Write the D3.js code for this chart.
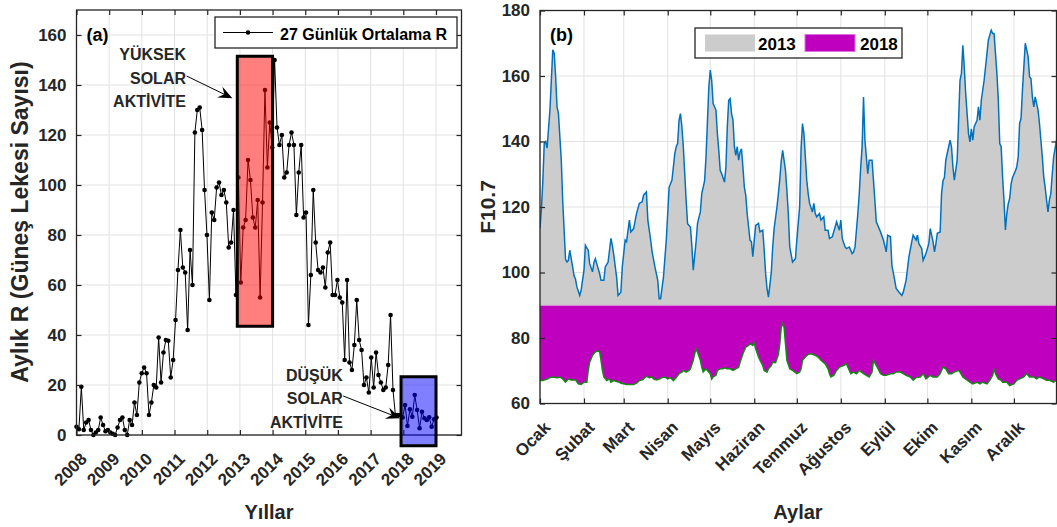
<!DOCTYPE html>
<html lang="tr">
<head>
<meta charset="utf-8">
<title>Güneş lekesi sayısı ve F10.7</title>
<script src="https://cdn.jsdelivr.net/npm/d3@7"></script>
<style>
  html, body { margin: 0; padding: 0; background: #fff; }
  svg text { font-family: "Liberation Sans", Arial, Helvetica, sans-serif; font-weight: bold; fill: #262626; }
</style>
</head>
<body>
<svg id="fig" width="1057" height="527"></svg>
<script>
// ---------------- Panel (a): 27-day (one Bartels rotation) mean sunspot number R ----------------
const rotationStartYear = 2008;
const rotationLengthDays = 27;
const sunspotR = [
  3.3, 2.3, 19.3, 2, 5, 6, 2, 0, 1, 2, 7, 4, 1.5, 2,
  1, 0.5, 0, 3, 6, 7, 2, 0, 6, 4, 13, 8, 21,
  24.7, 27, 24.7, 8, 13, 20, 19, 39, 21, 33, 38, 37.7, 23, 30,
  46, 66, 82, 67, 65, 42, 74, 60, 121, 130, 131, 122, 98, 80,
  54, 89, 86, 99, 101, 96, 98, 93, 75, 77, 90, 56, 103, 61,
  83, 86, 110, 102, 87, 83, 94, 55, 93, 138, 107, 125, 115, 150,
  123, 116, 120, 103, 105, 116, 121, 116, 88, 105, 116, 87, 89, 44,
  64, 98, 77, 66, 65, 67, 59, 73, 77, 56, 56, 62, 55, 53,
  30, 62, 29, 26, 36, 54, 38, 34, 20, 23, 17, 31, 19, 33,
  24, 21, 18, 19, 28, 48, 18, 8, 8, 8, 7, 12, 3.6, 10.3,
  7.3, 16, 10, 2.7, 9.3, 6.7, 6, 7.1, 3.3, 6.3, 7
];
const yearTicks = [2008, 2009, 2010, 2011, 2012, 2013, 2014, 2015, 2016, 2017, 2018, 2019];
const rTicks = [0, 20, 40, 60, 80, 100, 120, 140, 160];
// highlighted periods: [fromYear, toYear, lowR, highR]
const highActivityBox = [2012.92, 2014.0, 43.5, 151.5];
const lowActivityBox = [2017.93, 2019.0, -4.3, 23.3];
const highActivityText = ["YÜKSEK", "SOLAR", "AKTİVİTE"];
const lowActivityText = ["DÜŞÜK", "SOLAR", "AKTİVİTE"];

// ---------------- Panel (b): daily F10.7 solar flux, [day of year, value] ----------------
const months = ["Ocak", "Şubat", "Mart", "Nisan", "Mayıs", "Haziran", "Temmuz", "Ağustos", "Eylül", "Ekim", "Kasım", "Aralık"];
const monthStartDay = [0, 31, 59, 90, 120, 151, 181, 212, 243, 273, 304, 334];
const f107Ticks = [60, 80, 100, 120, 140, 160, 180];
const areaBase = 90;
const f107_2013 = [
  [0,113.5],[1,119.5],[2,128],[3,139.4],[4,140],[5,138],[7,149.6],[9,168],[10,167],[11,160],[12,150.6],[13,148.5],
  [15,134.3],[16,122],[17,113],[18,104],[19,103.2],[20,103.7],[21,106.8],[23,101.7],[24,99],[25,98],[26,95.6],
  [28,93],[29,94.6],[31,100.7],[32,108.3],[33,107.5],[34,106.8],[35,102.7],[37,100.2],[38,103],[39,104.2],
  [40,102.7],[42,99.7],[43,97.6],[45,97.6],[46,101.7],[48,103.2],[50,110.4],[51,108.3],[52,105.3],[54,98.6],
  [55,93],[57,94],[58,101.7],[60,109.9],[61,109.4],[63,116],[64,112.4],[66,113.4],[68,118],[70,121.1],[72,121.6],
  [73,123.6],[75,124.6],[76,116],[78,109.9],[79,106.3],[81,101.7],[83,97.6],[84,92],[85,92],[87,98.6],[89,109.9],
  [90,118],[91,126],[93,128.2],[95,136.3],[96,138.4],[97,139.4],[98,146.5],[99,148.5],[100,144.5],[101,138.4],
  [102,130.2],[103,122],[104,114.9],[106,113.9],[107,108.3],[108,100.7],[110,109.4],[111,115],[113,118.5],
  [114,124.1],[116,128],[117,135.3],[119,156.7],[120,161.8],[121,158.7],[122,151.6],[124,149.6],[125,142.4],
  [126,137.3],[127,131.2],[128,130.2],[130,127.6],[131,132],[132,144.5],[133,152.6],[134,153.1],[135,148.5],
  [136,146.5],[137,138.4],[138,135.8],[139,138.4],[140,134.3],[141,136.8],[142,137.8],[143,132.2],[144,126.1],
  [145,123.6],[146,118],[147,113.9],[148,109.9],[149,109.4],[150,104.8],[151,109.9],[152,114.4],[154,115],
  [155,112.4],[157,112.9],[158,106.8],[159,99.7],[160,95.1],[161,92.5],[163,100],[164,107.8],[165,113.4],
  [167,120],[168,124.1],[169,128.5],[170,134],[171,137.3],[172,134.3],[173,131.2],[174,125],[175,118],
  [176,107.8],[178,103.2],[180,104.2],[181,109.9],[183,120.1],[184,138],[185,145.5],[186,142.4],[188,128.2],
  [189,124.1],[190,121.1],[192,118.5],[193,121.1],[194,118],[195,117],[197,118],[198,116],[200,117],[201,112.9],
  [203,112.9],[204,110.4],[206,110.9],[208,113.9],[209,115.5],[211,112.9],[212,116],[213,110.4],[215,107.8],
  [216,107.3],[218,107.8],[220,105.8],[221,106.3],[222,107.8],[224,118],[225,124.1],[226,132],[227,138.4],
  [228,153.6],[229,140.4],[231,130.2],[232,134.3],[234,134.3],[235,128.2],[236,122],[237,115.5],[240,112.4],
  [242,109.9],[244,106.3],[245,111.4],[247,110.9],[248,102.2],[250,97.6],[251,95.1],[253,94],[255,93],[256,94],
  [258,97.6],[260,104.8],[262,109.4],[263,111.4],[265,109.9],[266,111.4],[267,108.8],[269,107.3],[270,103.7],
  [272,105.8],[274,108.8],[275,113.4],[277,109.4],[278,106.3],[279,108.8],[280,112],[282,112.4],[283,124.1],
  [284,128],[285,129],[286,134.3],[288,138.4],[289,140.4],[290,138.4],[291,132.2],[292,128.2],[294,134.3],
  [295,146.5],[296,158.7],[297,160.8],[298,169.4],[299,162.8],[300,154.7],[302,142.4],[303,139.9],[304,143.9],
  [305,140.4],[306,144.5],[308,146.5],[309,150.6],[310,146.5],[311,152.6],[313,158.7],[314,162.8],[316,171],
  [318,174],[319,173],[320,173],[321,166.9],[322,160.8],[323,152.6],[324,139.4],[325,138.4],[326,129.2],
  [327,122],[328,113],[329,118],[330,121],[331,122.6],[332,127],[333,129],[334,130],[335,131],[336,132.2],
  [337,135.3],[338,145.5],[339,147],[340,155.7],[341,162.8],[342,170],[344,165.9],[345,159.8],[346,159.2],
  [347,153.6],[348,150.6],[349,153.6],[351,149.6],[352,145.5],[353,140.4],[354,135.3],[355,129.2],[356,126.1],
  [357,122],[358,118.5],[359,122.1],[360,124.1],[361,130],[362,135.3],[364,140.4]
];
const f107_2018 = [
  [0,67],[2,67],[5,67.5],[7,67.9],[9,68.1],[12,67.9],[14,68.1],[16,67.5],[18,66.5],[20,67.5],[22,67.2],[25,67.2],
  [27,66],[29,65.8],[31,66.5],[33,66.5],[34,70.1],[35,72.6],[37,74.7],[39,75.7],[40,76],[42,75.9],[43,73.2],
  [44,70.1],[45,68.1],[47,67],[49,67.5],[50,66.5],[52,67],[54,66.7],[56,66.5],[57,66.2],[59,66],[61,65.8],
  [63,65.8],[66,65.8],[68,66.2],[70,67],[72,67.2],[73,67.5],[75,68.3],[77,67.9],[79,68.1],[80,67.5],[82,67.2],
  [84,67.5],[86,67.9],[88,68.1],[90,67.5],[92,67.9],[94,67],[96,67.9],[98,69.1],[100,69.6],[101,70.1],[103,69.6],
  [105,70.1],[106,70.6],[108,73.2],[109,75.2],[110,76.7],[111,75.7],[113,73.2],[114,71.1],[115,69.6],[117,70.6],
  [118,70.1],[120,69.1],[121,67.5],[122,68.1],[124,68.6],[125,70.1],[127,70.6],[129,70.6],[130,70.9],[132,70.6],
  [134,70.6],[136,70.1],[138,70.6],[140,71.1],[141,72.6],[143,75.2],[145,77.2],[147,77.7],[148,78.3],[150,77.7],
  [151,78.5],[152,76.7],[154,74.2],[155,73.2],[157,71.6],[158,70.1],[160,69.6],[161,70.6],[163,71.6],[164,72.6],
  [166,72.5],[168,75],[169,78.3],[170,83.3],[171,84.4],[172,83.3],[173,78.3],[174,73.2],[176,70.6],[178,70.1],
  [181,69.1],[183,69.6],[184,70.6],[185,73.2],[187,74.2],[189,75],[191,75.2],[194,74.7],[196,74.2],[198,73.2],
  [201,72.1],[203,70.6],[204,69.1],[205,68.1],[207,68.6],[209,70.1],[211,71.1],[214,71.6],[216,72.1],[217,71.1],
  [219,69.1],[221,69.6],[223,69.1],[225,70.1],[228,69.1],[230,68.6],[232,68.1],[234,69.6],[235,73.2],[237,71.6],
  [240,69.1],[242,68.6],[244,68.6],[247,69.1],[249,69.1],[251,69.6],[254,69.6],[256,69.1],[258,68.6],[261,68.1],
  [263,67.1],[265,67.9],[268,68.1],[270,69.1],[272,67.5],[275,68.6],[277,68.1],[280,68.1],[282,69.1],[284,71.1],
  [286,70.6],[288,69.1],[290,69.1],[292,69.6],[295,70.1],[296,69.6],[298,68.1],[301,67.1],[303,66.5],[305,66],
  [308,66.5],[310,66],[312,66.5],[315,66],[317,67.1],[319,68.6],[320,70.6],[321,69.1],[323,67.5],[325,67.1],
  [326,66.5],[329,66.5],[331,65.5],[334,66],[336,67.1],[338,67.5],[341,68.1],[343,69.1],[345,68.1],[348,68.1],
  [350,67.5],[352,68.1],[355,67.5],[357,67.1],[359,67.1],[362,66.5],[364,67.1]
];

// ---------------- shared drawing helpers ----------------
const svg = d3.select("#fig");
const AXIS = "#262626";
const GRID = "#e2e2e2";

function drawGrid(g, x, y, xTicks, yTicks) {
  const [xa, xb] = x.range(), [ya, yb] = y.range();
  g.append("g").selectAll("line").data(xTicks).join("line")
    .attr("x1", d => x(d)).attr("x2", d => x(d)).attr("y1", ya).attr("y2", yb)
    .attr("stroke", GRID).attr("stroke-width", 1);
  g.append("g").selectAll("line").data(yTicks).join("line")
    .attr("y1", d => y(d)).attr("y2", d => y(d)).attr("x1", xa).attr("x2", xb)
    .attr("stroke", GRID).attr("stroke-width", 1);
}

function drawAxes(g, x, y, xTicks, yTicks, xLabel) {
  const [xa, xb] = x.range(), [ya, yb] = y.range();
  const bottom = g.append("g").attr("transform", `translate(0,${ya})`)
    .call(d3.axisBottom(x).tickValues(xTicks).tickSize(-5).tickSizeOuter(0).tickFormat(xLabel));
  const top = g.append("g").attr("transform", `translate(0,${yb})`)
    .call(d3.axisTop(x).tickValues(xTicks).tickSize(-5).tickSizeOuter(0).tickFormat(""));
  const left = g.append("g").attr("transform", `translate(${xa},0)`)
    .call(d3.axisLeft(y).tickValues(yTicks).tickSize(-5).tickSizeOuter(0).tickPadding(10));
  const right = g.append("g").attr("transform", `translate(${xb},0)`)
    .call(d3.axisRight(y).tickValues(yTicks).tickSize(-5).tickSizeOuter(0).tickFormat(""));
  [bottom, top, left, right].forEach(a => {
    a.attr("color", AXIS).attr("font-size", 17);
    a.select(".domain").remove();
    a.selectAll(".tick line").attr("stroke-width", 1.2);
  });
  bottom.selectAll(".tick text")
    .attr("x", 0).attr("y", 0).attr("dy", null)
    .attr("text-anchor", "end")
    .attr("transform", "translate(11,25) rotate(-45)");
  g.append("rect")
    .attr("x", xa).attr("y", yb).attr("width", xb - xa).attr("height", ya - yb)
    .attr("fill", "none").attr("stroke", AXIS).attr("stroke-width", 1.3);
}

function arrow(g, x0, y0, x1, y1) {
  const ang = Math.atan2(y1 - y0, x1 - x0);
  const len = 14, half = 6, notch = 9;
  const ux = Math.cos(ang), uy = Math.sin(ang);
  const px = -uy, py = ux;
  const bx = x1 - ux * len, by = y1 - uy * len;
  const nx = x1 - ux * notch, ny = y1 - uy * notch;
  g.append("line").attr("x1", x0).attr("y1", y0).attr("x2", nx).attr("y2", ny)
    .attr("stroke", "#000").attr("stroke-width", 1);
  g.append("path")
    .attr("d", `M${x1},${y1}L${bx + px * half},${by + py * half}L${nx},${ny}L${bx - px * half},${by - py * half}Z`)
    .attr("fill", "#000");
}

// ---------------- Panel (a) ----------------
const ax = d3.scaleLinear().domain([2008, 2019.78]).range([76.5, 461.5]);
const ay = d3.scaleLinear().domain([0, 170]).range([435, 10]);
const gA = svg.append("g");
drawGrid(gA, ax, ay, yearTicks, rTicks);

const rotYears = sunspotR.map((_, i) => rotationStartYear + i * rotationLengthDays / 365.25);
gA.append("path")
  .datum(sunspotR)
  .attr("d", d3.line().x((d, i) => ax(rotYears[i])).y(d => ay(d)))
  .attr("fill", "none").attr("stroke", "#000").attr("stroke-width", 1);
gA.append("g").selectAll("circle").data(sunspotR).join("circle")
  .attr("cx", (d, i) => ax(rotYears[i])).attr("cy", d => ay(d)).attr("r", 2.3).attr("fill", "#000");

drawAxes(gA, ax, ay, yearTicks, rTicks, d => String(d));

function activityBox(b, fill) {
  gA.append("rect")
    .attr("x", ax(b[0])).attr("y", ay(b[3]))
    .attr("width", ax(b[1]) - ax(b[0])).attr("height", ay(b[2]) - ay(b[3]))
    .attr("fill", fill).attr("stroke", "#000").attr("stroke-width", 3);
}
activityBox(highActivityBox, "rgba(255,0,0,0.5)");
activityBox(lowActivityBox, "rgba(0,0,255,0.5)");

function stackedLabel(lines, xYear, baseR, stepR) {
  gA.append("g").selectAll("text").data(lines).join("text")
    .attr("x", ax(xYear)).attr("y", (d, i) => ay(baseR - i * stepR))
    .attr("text-anchor", "end").attr("font-size", 16).style("fill", "#262626")
    .text(d => d);
}
stackedLabel(highActivityText, 2011.35, 150, 9.4);
stackedLabel(lowActivityText, 2016.15, 21.8, 9.5);
arrow(gA, ax(2011.37), ay(143.6), ax(2012.77), ay(134.7));
arrow(gA, ax(2016.16), ay(15.6), ax(2017.9), ay(6.7));

gA.append("text").attr("x", 86.5).attr("y", 41).attr("font-size", 18).style("fill", "#000").text("(a)");

// legend (a)
const legA = gA.append("g");
legA.append("rect").attr("x", 215).attr("y", 17).attr("width", 242).attr("height", 31)
  .attr("fill", "#fff").attr("stroke", AXIS).attr("stroke-width", 1.3);
legA.append("line").attr("x1", 223).attr("x2", 273).attr("y1", 32.5).attr("y2", 32.5)
  .attr("stroke", "#000").attr("stroke-width", 1);
legA.append("circle").attr("cx", 248).attr("cy", 32.5).attr("r", 2.3).attr("fill", "#000");
legA.append("text").attr("x", 280).attr("y", 40).attr("font-size", 16).style("fill", "#000")
  .text("27 Günlük Ortalama R");

gA.append("text").attr("x", 269).attr("y", 519).attr("text-anchor", "middle").attr("font-size", 20).text("Yıllar");
gA.append("text").attr("transform", "translate(28,222) rotate(-90)").attr("text-anchor", "middle")
  .attr("font-size", 23).text("Aylık R (Güneş Lekesi Sayısı)");

// ---------------- Panel (b) ----------------
const bx = d3.scaleLinear().domain([0, 364]).range([540, 1056.5]);
const by = d3.scaleLinear().domain([60, 180]).range([403.5, 10.5]);
const gB = svg.append("g");
svg.append("defs").append("clipPath").attr("id", "clipB")
  .append("rect").attr("x", 540).attr("y", 10.5).attr("width", 516.5).attr("height", 393);
drawGrid(gB, bx, by, monthStartDay, f107Ticks);

const plotB = gB.append("g").attr("clip-path", "url(#clipB)");
const areaB = d3.area().x(d => bx(d[0])).y0(by(areaBase)).y1(d => by(d[1]));
const lineB = d3.line().x(d => bx(d[0])).y(d => by(d[1]));
plotB.append("path").datum(f107_2013).attr("d", areaB).attr("fill", "#cccccc");
plotB.append("path").datum(f107_2018).attr("d", areaB).attr("fill", "#bf00bf");
plotB.append("line").attr("x1", bx(0)).attr("x2", bx(364)).attr("y1", by(areaBase)).attr("y2", by(areaBase))
  .attr("stroke", "#d8a6d8").attr("stroke-width", 1);
plotB.append("path").datum(f107_2013).attr("d", lineB)
  .attr("fill", "none").attr("stroke", "#0072bd").attr("stroke-width", 1.5);
plotB.append("path").datum(f107_2018).attr("d", lineB)
  .attr("fill", "none").attr("stroke", "#138a13").attr("stroke-width", 1.5);

drawAxes(gB, bx, by, monthStartDay, f107Ticks, (d, i) => months[i]);

gB.append("text").attr("x", 550).attr("y", 41).attr("font-size", 18).style("fill", "#000").text("(b)");

// legend (b)
const legB = gB.append("g");
legB.append("rect").attr("x", 695).attr("y", 28).attr("width", 207).attr("height", 30)
  .attr("fill", "#fff").attr("stroke", AXIS).attr("stroke-width", 1.3);
legB.append("rect").attr("x", 705).attr("y", 34.5).attr("width", 50).attr("height", 17).attr("fill", "#cccccc");
legB.append("text").attr("x", 758).attr("y", 49.5).attr("font-size", 17).style("fill", "#000").text("2013");
legB.append("rect").attr("x", 805).attr("y", 34.5).attr("width", 50).attr("height", 17)
  .attr("fill", "#bf00bf").attr("stroke", "#e070e0").attr("stroke-width", 1);
legB.append("text").attr("x", 860).attr("y", 49.5).attr("font-size", 17).style("fill", "#000").text("2018");

gB.append("text").attr("x", 798).attr("y", 519).attr("text-anchor", "middle").attr("font-size", 20).text("Aylar");
gB.append("text").attr("transform", "translate(495,207) rotate(-90)").attr("text-anchor", "middle")
  .attr("font-size", 21).text("F10.7");
</script>
</body>
</html>
